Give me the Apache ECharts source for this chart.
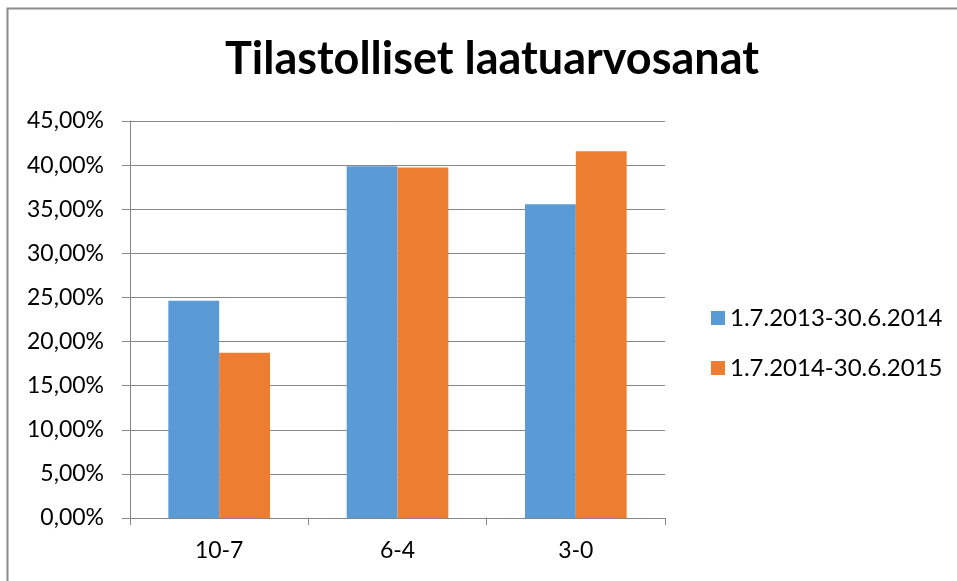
<!DOCTYPE html>
<html lang="fi">
  <head>
    <meta charset="UTF-8" />
    <title>Tilastolliset laatuarvosanat</title>
    <style>
      html, body { margin: 0; padding: 0; background: #fff; }
      #main { width: 957px; height: 581px; }
    </style>
  </head>
  <body>
    <div id="main"></div>
    <script src="https://cdn.jsdelivr.net/npm/echarts@6/dist/echarts.min.js"></script>
    <script>
      const myChart = echarts.init(document.getElementById('main'))
      // luokat ja sarjat
      var categories = ['10-7', '6-4', '3-0']
      var seriesNames = ['1.7.2013-30.6.2014', '1.7.2014-30.6.2015']
      var data2014 = [24.63, 39.87, 35.56]
      var data2015 = [18.73, 39.72, 41.58]
      var yTicks = [0, 5, 10, 15, 20, 25, 30, 35, 40, 45]

      var font = 'Lato, "Open Sans", sans-serif'

      var option = {
        backgroundColor: '#fff',
        animation: false,
        title: {
          text: 'Tilastolliset laatuarvosanat',
          left: 220,
          top: 32,
          textStyle: {
            fontFamily: font,
            fontSize: 45,
            fontWeight: 'bold',
            color: '#000'
          }
        },
        legend: {
          orient: 'vertical',
          left: 706,
          top: 301,
          itemWidth: 14,
          itemHeight: 14,
          itemGap: 26,
          icon: 'rect',
          textStyle: { fontFamily: font, fontSize: 24, color: '#000' },
          data: seriesNames
        },
        grid: {
          left: 130,
          right: 292,
          top: 121,
          bottom: 63
        },
        xAxis: {
          type: 'category',
          data: categories,
          axisLine: { lineStyle: { color: '#868686', width: 1 } },
          axisTick: { show: true, length: 7, lineStyle: { color: '#868686' } },
          axisLabel: { fontFamily: font, fontSize: 23, color: '#000', margin: 21 }
        },
        yAxis: {
          type: 'value',
          min: yTicks[0],
          max: yTicks[yTicks.length - 1],
          interval: 5,
          axisLine: { show: true, lineStyle: { color: '#868686', width: 1 } },
          axisTick: { show: true, length: 8, lineStyle: { color: '#868686' } },
          splitLine: { lineStyle: { color: '#868686', width: 1 } },
          axisLabel: {
            fontFamily: font,
            fontSize: 23,
            color: '#000',
            margin: 26,
            formatter: function (v) {
              return v.toFixed(2).replace('.', ',') + '%'
            }
          }
        },
        series: [
          {
            name: seriesNames[0],
            type: 'bar',
            data: data2014,
            barGap: '0%',
            barCategoryGap: '43%',
            itemStyle: { color: '#5B9BD5' }
          },
          {
            name: seriesNames[1],
            type: 'bar',
            data: data2015,
            itemStyle: { color: '#ED7D31' }
          }
        ],
        graphic: [
          {
            // kehys: vain vasen ja yläreuna näkyvät
            type: 'rect',
            shape: { x: 7.5, y: 8.5, width: 1000, height: 620 },
            style: { fill: null, stroke: '#8c8c8c', lineWidth: 2 },
            silent: true
          }
        ]
      }

      myChart.setOption(option)
    </script>
  </body>
</html>
